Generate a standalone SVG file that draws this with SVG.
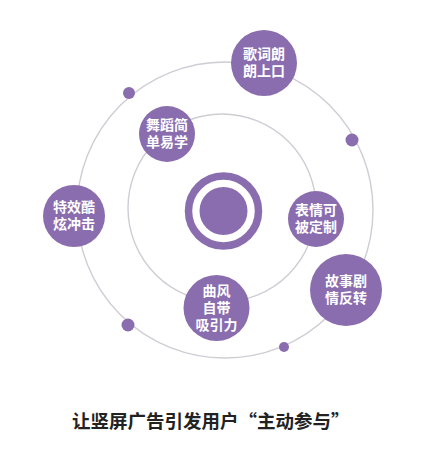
<svg xmlns="http://www.w3.org/2000/svg" width="448" height="472" viewBox="0 0 448 472">
<style>
.orbit{fill:none;stroke:#d0ccd4;stroke-width:1.4}
.node{fill:#8a6dae}
.dot{fill:#8a6dae}
.lbl{font-family:"Noto Sans CJK SC","Noto Sans",sans-serif;font-size:14px;font-weight:700;fill:#ffffff;text-anchor:middle}
.title{font-family:"Noto Sans CJK SC","Noto Sans",sans-serif;font-size:18.5px;font-weight:700;fill:#222222}
</style>
<rect width="448" height="472" fill="#ffffff"/>
<g id="connectors">
<circle class="orbit" cx="225" cy="210" r="148"/>
<circle class="orbit" cx="222" cy="208" r="94"/>
</g>
<g id="center">
<circle cx="223.5" cy="211" r="35" fill="none" stroke="#8a6dae" stroke-width="7.5"/>
<circle class="node" cx="223.5" cy="211" r="24"/>
</g>
<g id="dots">
<circle class="dot" cx="129" cy="93" r="6"/>
<circle class="dot" cx="352" cy="140" r="6.5"/>
<circle class="dot" cx="128" cy="325" r="6.5"/>
<circle class="dot" cx="284" cy="347" r="5"/>
</g>
<g id="node-lyrics">
<circle class="node" cx="264" cy="63" r="33"/>
<text class="lbl" x="264" y="59">歌词朗<tspan x="264" dy="17">朗上口</tspan></text>
</g>
<g id="node-dance">
<circle class="node" cx="167" cy="134" r="28"/>
<text class="lbl" x="167" y="130">舞蹈简<tspan x="167" dy="17">单易学</tspan></text>
</g>
<g id="node-effects">
<circle class="node" cx="74" cy="216" r="31"/>
<text class="lbl" x="74" y="212">特效酷<tspan x="74" dy="17">炫冲击</tspan></text>
</g>
<g id="node-emoji">
<circle class="node" cx="316" cy="219" r="28"/>
<text class="lbl" x="316" y="215">表情可<tspan x="316" dy="17">被定制</tspan></text>
</g>
<g id="node-story">
<circle class="node" cx="346" cy="290" r="36"/>
<text class="lbl" x="346" y="286">故事剧<tspan x="346" dy="17">情反转</tspan></text>
</g>
<g id="node-music">
<circle class="node" cx="216.5" cy="308" r="33"/>
<text class="lbl" x="216.5" y="296">曲风<tspan x="216.5" dy="17">自带</tspan><tspan x="216.5" dy="17">吸引力</tspan></text>
</g>
<text class="title" x="72" y="428">让竖屏广告引发用户“主动参与”</text>
</svg>
